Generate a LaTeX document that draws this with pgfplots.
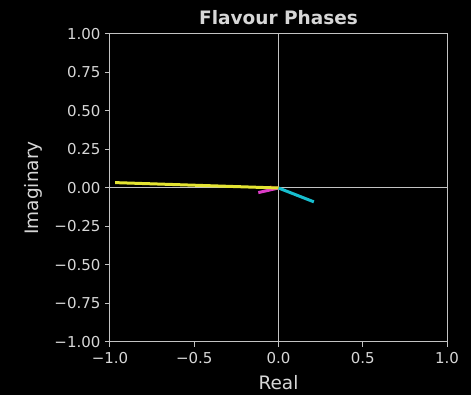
\documentclass[border=0pt]{standalone}
\usepackage{pgfplots}
\pgfplotsset{compat=1.18}
\usepackage{fontspec}
\setmainfont{DejaVu Sans}
\definecolor{fg}{RGB}{215,215,215}
\definecolor{axgrey}{RGB}{195,195,195}
\definecolor{cyanl}{RGB}{23,190,207}
\definecolor{yell}{RGB}{228,228,50}
\definecolor{mag}{RGB}{220,60,200}
\definecolor{dred}{RGB}{110,20,20}
\begin{document}
\begin{tikzpicture}
\fill[black] (-110pt,-53pt) rectangle (361pt,342pt);
\begin{axis}[
  at={(0pt,0pt)}, anchor=south west,
  scale only axis, width=337pt, height=308pt,
  xmin=-1, xmax=1, ymin=-1, ymax=1,
  axis line style={axgrey, line width=1pt},
  tick style={axgrey, line width=1pt},
  tick align=outside, tick pos=left,
  major tick length=5pt,
  xtick={-1,-0.5,0,0.5,1},
  xticklabels={−1.0,−0.5,0.0,0.5,1.0},
  ytick={-1,-0.75,-0.5,-0.25,0,0.25,0.5,0.75,1},
  yticklabels={−1.00,−0.75,−0.50,−0.25,0.00,0.25,0.50,0.75,1.00},
  ticklabel style={font=\fontsize{15}{17}\selectfont, text=fg},
  yticklabel style={xshift=-1pt},
  xticklabel style={yshift=-2pt},
  xlabel={Real}, ylabel={Imaginary},
  label style={font=\fontsize{18.5}{21}\selectfont, text=fg},
  xlabel style={yshift=-5pt},
  ylabel style={yshift=5pt},
  title={\textbf{Flavour Phases}},
  title style={font=\fontsize{18.5}{21}\selectfont, text=fg, yshift=0pt},
  clip=false,
]
\draw[axgrey, line width=1pt] (axis cs:0,-1) -- (axis cs:0,1);
\draw[axgrey, line width=1pt] (axis cs:-1,0) -- (axis cs:1,0);
\addplot[dred, line width=2pt] coordinates {(-0.05,0.01) (0,0)};
\addplot[mag, line width=3pt] coordinates {(-0.12,-0.03) (0,0)};
\addplot[cyanl, line width=3pt] coordinates {(0,0) (0.21,-0.09)};
\addplot[yell, line width=3pt] coordinates {(-0.97,0.035) (0,0)};
\end{axis}
\end{tikzpicture}
\end{document}
